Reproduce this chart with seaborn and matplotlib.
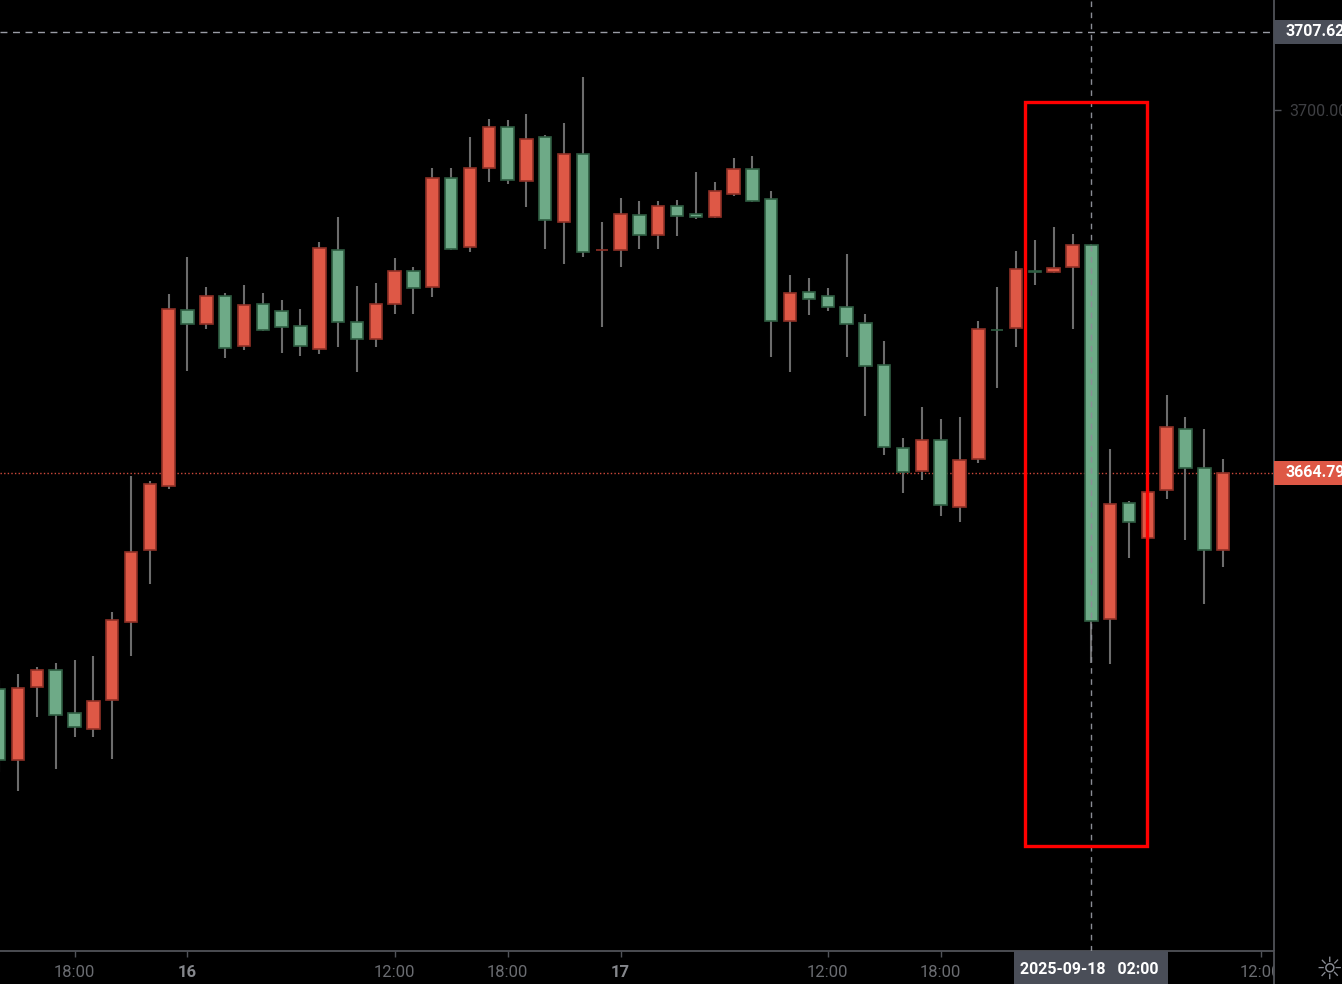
import numpy as np
import pandas as pd
import matplotlib
matplotlib.use("Agg")
import matplotlib.pyplot as plt
import matplotlib.transforms as mtransforms
from matplotlib.patches import Rectangle
from matplotlib.lines import Line2D
import seaborn as sns

# ---------------- data (hourly candles, index-based x axis) ----------------
bar_index = list(range(-10, 56))
opens = [3643.76, 3636.87, 3643.96, 3645.61, 3641.43, 3639.88, 3642.69, 3650.27, 3657.26, 3663.48,
         3680.57, 3679.21, 3681.93, 3677.08, 3681.16, 3680.48, 3679.02, 3676.79, 3686.40, 3679.41,
         3677.76, 3681.16, 3684.36, 3682.81, 3693.40, 3686.69, 3694.37, 3698.35, 3693.10, 3697.38,
         3689.12, 3695.73, 3686.38, 3686.40, 3689.80, 3687.86, 3690.68, 3689.90, 3689.61, 3691.84,
         3694.27, 3691.36, 3679.51, 3682.32, 3681.93, 3680.87, 3679.31, 3675.23, 3667.17, 3664.94,
         3667.95, 3661.44, 3666.10, 3678.66, 3678.83, 3684.32, 3684.27, 3684.75, 3686.89, 3650.56,
         3661.83, 3658.43, 3663.09, 3669.02, 3665.23, 3657.26]
highs = [3644.64, 3645.22, 3645.90, 3646.29, 3646.58, 3646.97, 3651.24, 3664.45, 3663.96, 3682.13,
         3685.72, 3682.81, 3682.23, 3683.00, 3682.23, 3681.55, 3680.67, 3687.18, 3689.61, 3682.91,
         3683.20, 3685.62, 3684.75, 3694.37, 3694.37, 3697.38, 3699.13, 3699.03, 3699.61, 3697.57,
         3698.74, 3703.21, 3689.12, 3691.45, 3691.16, 3691.16, 3691.26, 3693.98, 3693.01, 3695.34,
         3695.53, 3692.13, 3683.97, 3683.68, 3682.71, 3686.01, 3680.19, 3677.56, 3668.14, 3671.15,
         3669.99, 3670.18, 3679.51, 3682.81, 3686.30, 3687.37, 3688.64, 3687.96, 3686.98, 3667.07,
         3662.02, 3663.19, 3672.32, 3670.18, 3669.02, 3666.10]
lows = [3635.70, 3633.85, 3641.04, 3635.99, 3639.10, 3639.10, 3636.96, 3646.97, 3653.96, 3663.19,
        3674.65, 3678.73, 3675.91, 3676.69, 3678.53, 3676.40, 3676.11, 3676.30, 3676.98, 3674.55,
        3676.98, 3680.19, 3680.19, 3681.84, 3686.40, 3686.21, 3693.01, 3692.81, 3690.58, 3686.50,
        3685.04, 3685.72, 3678.92, 3684.75, 3686.50, 3686.50, 3687.76, 3689.41, 3689.51, 3691.65,
        3691.06, 3676.01, 3674.55, 3680.09, 3680.48, 3676.01, 3670.28, 3666.49, 3662.80, 3664.06,
        3660.57, 3659.98, 3665.71, 3673.00, 3676.98, 3683.00, 3684.17, 3678.73, 3646.29, 3646.19,
        3656.49, 3658.23, 3662.22, 3658.23, 3652.02, 3655.61]
closes = [3636.87, 3643.86, 3645.61, 3641.24, 3640.07, 3642.60, 3650.46, 3657.07, 3663.67, 3680.67,
          3679.21, 3681.93, 3676.88, 3681.06, 3678.63, 3678.92, 3677.08, 3686.60, 3679.41, 3677.76,
          3681.16, 3684.36, 3682.71, 3693.40, 3686.50, 3694.37, 3698.35, 3693.20, 3697.18, 3689.32,
          3695.73, 3686.21, 3686.43, 3689.90, 3687.86, 3690.68, 3689.70, 3689.61, 3692.13, 3694.27,
          3691.16, 3679.51, 3682.23, 3681.64, 3680.87, 3679.21, 3675.13, 3667.27, 3664.84, 3667.95,
          3661.63, 3666.00, 3678.73, 3678.60, 3684.56, 3684.25, 3684.65, 3686.89, 3650.37, 3661.73,
          3659.98, 3662.90, 3669.21, 3665.23, 3657.26, 3664.79]

tick_positions = [-6, 0, 11, 17, 23, 34, 40, 57]
tick_labels = ["18:00", "16", "12:00", "18:00", "17", "12:00", "18:00", "12:00"]
day_labels = ["16", "17"]
price_ticks = [3700.00]
price_tick_labels = ["3700.00"]
crosshair_index = 48
crosshair_time = "2025-09-18   02:00"
crosshair_price = 3707.62
last_price = 3664.79
highlight = (44.48, 50.96, 3628.51, 3700.78)  # x0, x1, y0, y1

# ---------------- style ----------------
UP_FILL, UP_EDGE = "#DE5846", "#8E3026"
DN_FILL, DN_EDGE = "#6EAA87", "#2E5C41"
WICK = "#6c6c6c"
AXIS = "#505258"

sns.set_theme(style="dark", rc={"axes.facecolor": "black", "figure.facecolor": "black",
                                "axes.grid": False})
plt.rcParams["font.family"] = ["Roboto", "DejaVu Sans"]

df = pd.DataFrame({"idx": bar_index, "open": opens, "high": highs,
                   "low": lows, "close": closes})
up = df["close"] >= df["open"]

W, H = 1342, 984
fig = plt.figure(figsize=(W / 100, H / 100), dpi=100)
ax_w, ax_h = 1274 / W, 951 / H
ax = fig.add_axes([0, 1 - ax_h, ax_w, ax_h])
ax.set_facecolor("black")
ax.set_xlim(-9.957, 57.70)
ax.set_ylim(3618.315, 3710.684)

# last price dotted line
ax.axhline(last_price, color="#D04A3C", lw=1.0, ls=(0, (1, 1.6)), zorder=1)

# wicks
ax.vlines(df["idx"], df["low"], df["high"], color=WICK, lw=1.5, zorder=2)
# bodies
bottom = np.minimum(df["open"], df["close"])
height = np.maximum((df["close"] - df["open"]).abs(), 0.06)
ax.bar(df["idx"], height, bottom=bottom, width=0.66,
       color=np.where(up, UP_FILL, DN_FILL), edgecolor=np.where(up, UP_EDGE, DN_EDGE),
       linewidth=1.2, zorder=3)

# crosshair
ax.axvline(crosshair_index, color="#8a8d95", lw=1.0, ls=(0, (4, 4)), zorder=4)
ax.axhline(crosshair_price, color="#9a9da5", lw=1.0, ls=(0, (5, 4)), zorder=4)

# highlight box
x0, x1, y0, y1 = highlight
ax.add_patch(Rectangle((x0, y0), x1 - x0, y1 - y0, fill=False, ec="#FF0000",
                       lw=2.4, zorder=6))

# spines
for s in ["top", "left"]:
    ax.spines[s].set_visible(False)
for s in ["bottom", "right"]:
    ax.spines[s].set_visible(True)
    ax.spines[s].set_color(AXIS)
    ax.spines[s].set_linewidth(1.3)

# x ticks
ax.set_xticks(tick_positions)
ax.set_xticklabels(tick_labels)
ax.tick_params(axis="x", direction="out", length=4, width=1, color=AXIS,
               labelsize=12, pad=6, bottom=True)
for t in ax.get_xticklabels():
    if t.get_text() in day_labels:
        t.set_color("#85878c")
        t.set_fontweight("bold")
    else:
        t.set_color("#6a6c71")

# y ticks (right)
ax.yaxis.tick_right()
ax.set_yticks(price_ticks + [crosshair_price, last_price])
ax.set_yticklabels(price_tick_labels + ["", ""])
ax.tick_params(axis="y", direction="out", length=5, width=1, color=AXIS,
               labelsize=11.5, pad=6, right=True, left=False, labelcolor="#3e3f43")

# price label boxes on right axis
blend_y = mtransforms.blended_transform_factory(ax.transAxes, ax.transData)
box_h = 24 * (3710.684 - 3618.315) / 951
for price, fc in [(crosshair_price, "#4a4e58"), (last_price, "#DE5846")]:
    ax.add_patch(Rectangle((1.0, price - box_h / 2), 0.06, box_h, transform=blend_y,
                           fc=fc, ec="none", clip_on=False, zorder=7))
    ax.text(1.0 + 12 / 1274, price, f"{price:.2f}", transform=blend_y, ha="left",
            va="center", color="white", fontsize=11.5, fontweight="bold",
            clip_on=False, zorder=8)

# crosshair time label box at bottom
blend_x = mtransforms.blended_transform_factory(ax.transData, ax.transAxes)
half_w = 77 / 18.83
ax.add_patch(Rectangle((crosshair_index - half_w, -33 / 951), 2 * half_w, 33 / 951,
                       transform=blend_x, fc="#4a4e58", ec="none", clip_on=False, zorder=7))
ax.text(crosshair_index - 0.1, -18 / 951, crosshair_time, transform=blend_x, ha="center",
        va="center", color="white", fontsize=11.5, fontweight="bold", clip_on=False, zorder=8)

# bottom-right corner (settings area)
fig.patches.append(Rectangle((ax_w, 0), 1 - ax_w, 1 - ax_h, transform=fig.transFigure,
                             fc="black", ec="none", zorder=20))
fig.lines.append(Line2D([ax_w, ax_w], [0, 1 - ax_h], transform=fig.transFigure,
                        color=AXIS, lw=1.3, zorder=21))
fig.text(1329 / W, 14 / H, "\u263C", ha="center", va="center", color="#8a8d95",
         fontsize=22, family="DejaVu Sans", zorder=22)

fig.savefig("out.png", dpi=100, facecolor="black")
